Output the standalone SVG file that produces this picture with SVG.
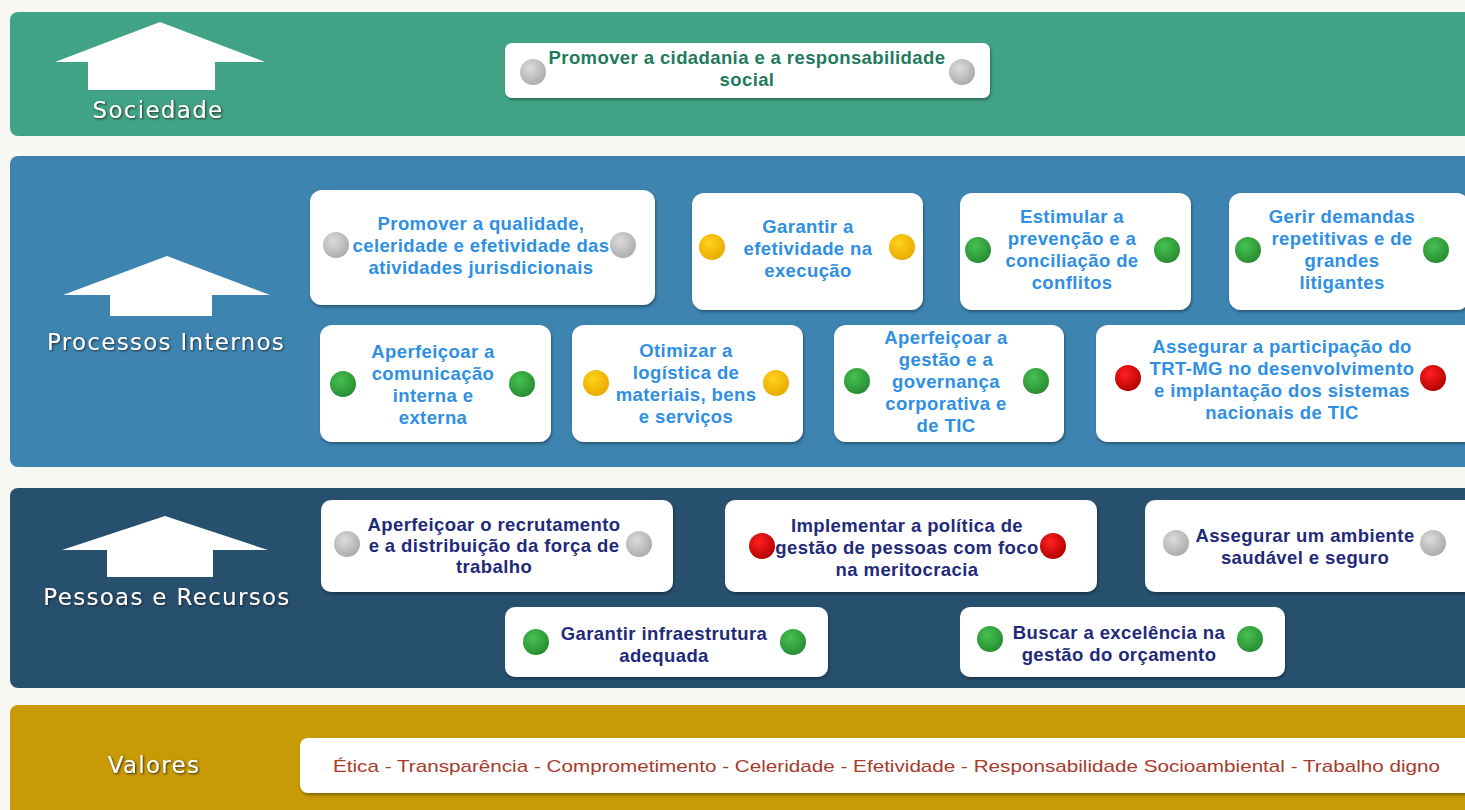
<svg xmlns="http://www.w3.org/2000/svg" width="1465" height="810" viewBox="0 0 1465 810">
<defs>
<radialGradient id="gGray" cx="0.4" cy="0.35" r="0.7"><stop offset="0" stop-color="#dcdcdc"/><stop offset="1" stop-color="#a9a9a9"/></radialGradient>
<radialGradient id="gYellow" cx="0.4" cy="0.35" r="0.7"><stop offset="0" stop-color="#ffd21a"/><stop offset="1" stop-color="#e9a800"/></radialGradient>
<radialGradient id="gGreen" cx="0.4" cy="0.35" r="0.7"><stop offset="0" stop-color="#47c152"/><stop offset="1" stop-color="#268a30"/></radialGradient>
<radialGradient id="gRed" cx="0.4" cy="0.35" r="0.7"><stop offset="0" stop-color="#ff2020"/><stop offset="1" stop-color="#b00000"/></radialGradient>
<filter id="shadow" x="-5%" y="-10%" width="110%" height="125%"><feDropShadow dx="1" dy="2" stdDeviation="1.5" flood-color="#000" flood-opacity="0.35"/></filter>
<filter id="tshadow" x="-5%" y="-20%" width="110%" height="150%"><feDropShadow dx="1" dy="1" stdDeviation="0.8" flood-color="#1a1a1a" flood-opacity="0.9"/></filter>
</defs>
<style>
.box{fill:#ffffff;filter:url(#shadow)}
.t{font-family:"Liberation Sans",Arial,sans-serif;font-weight:bold;font-size:18.5px;letter-spacing:0.4px;text-anchor:middle}
.tS{fill:#1f7a5e}
.tP{fill:#2f8fe3}
.tR{fill:#1f2a7a}
.lab{font-family:"DejaVu Sans",Verdana,sans-serif;font-size:23px;letter-spacing:1.3px;fill:#ffffff;text-anchor:middle;filter:url(#tshadow)}
.arr{fill:#ffffff}
.gray{fill:url(#gGray)}
.yel{fill:url(#gYellow)}
.grn{fill:url(#gGreen)}
.red{fill:url(#gRed)}
.val{font-family:"Liberation Sans",Arial,sans-serif;font-size:17px;fill:#a83a2a}
</style>
<rect x="0" y="0" width="1465" height="810" fill="#f7f8f3"/>

<g id="band-sociedade">
<rect x="10" y="12" width="1470" height="124" rx="8" fill="#40a385"/>
<path class="arr" d="M160,22 L265,62 L215,62 L215,90 L88,90 L88,62 L55,62 Z"/>
<text class="lab" x="158" y="118">Sociedade</text>
</g>
<g id="band-processos">
<rect x="10" y="156" width="1470" height="311" rx="8" fill="#3d84b1"/>
<path class="arr" d="M167,256 L270,295 L212,295 L212,316 L110,316 L110,295 L63,295 Z"/>
<text class="lab" x="166" y="350">Processos Internos</text>
</g>
<g id="band-pessoas">
<rect x="10" y="488" width="1470" height="200" rx="8" fill="#27506f"/>
<path class="arr" d="M165,516 L268,550 L213,550 L213,577 L107,577 L107,550 L62,550 Z"/>
<text class="lab" x="167" y="605">Pessoas e Recursos</text>
</g>
<g id="band-valores">
<rect x="10" y="705" width="1470" height="120" rx="8" fill="#c89a05"/>
<text class="lab" x="154" y="773">Valores</text>
</g>

<g id="n-cidadania">
<rect class="box" x="505" y="43" width="485" height="55" rx="7"/>
<circle class="gray" cx="533" cy="72" r="13"/><circle class="gray" cx="962" cy="72" r="13"/>
<text class="t tS" x="747" y="64">Promover a cidadania e a responsabilidade</text>
<text class="t tS" x="747" y="86">social</text>
</g>

<g id="n-qualidade">
<rect class="box" x="310" y="190" width="345" height="115" rx="12"/>
<circle class="gray" cx="336" cy="245" r="13"/><circle class="gray" cx="623" cy="245" r="13"/>
<text class="t tP" x="481" y="230">Promover a qualidade,</text>
<text class="t tP" x="481" y="252">celeridade e efetividade das</text>
<text class="t tP" x="481" y="274">atividades jurisdicionais</text>
</g>
<g id="n-execucao">
<rect class="box" x="692" y="193" width="231" height="117" rx="12"/>
<circle class="yel" cx="712" cy="247" r="13"/><circle class="yel" cx="902" cy="247" r="13"/>
<text class="t tP" x="808" y="233">Garantir a</text>
<text class="t tP" x="808" y="255">efetividade na</text>
<text class="t tP" x="808" y="277">execução</text>
</g>
<g id="n-conciliacao">
<rect class="box" x="960" y="193" width="231" height="117" rx="12"/>
<circle class="grn" cx="978" cy="250" r="13"/><circle class="grn" cx="1167" cy="250" r="13"/>
<text class="t tP" x="1072" y="223">Estimular a</text>
<text class="t tP" x="1072" y="245">prevenção e a</text>
<text class="t tP" x="1072" y="267">conciliação de</text>
<text class="t tP" x="1072" y="289">conflitos</text>
</g>
<g id="n-demandas">
<rect class="box" x="1229" y="193" width="240" height="117" rx="12"/>
<circle class="grn" cx="1248" cy="250" r="13"/><circle class="grn" cx="1436" cy="250" r="13"/>
<text class="t tP" x="1342" y="223">Gerir demandas</text>
<text class="t tP" x="1342" y="245">repetitivas e de</text>
<text class="t tP" x="1342" y="267">grandes</text>
<text class="t tP" x="1342" y="289">litigantes</text>
</g>
<g id="n-comunicacao">
<rect class="box" x="320" y="325" width="231" height="117" rx="12"/>
<circle class="grn" cx="343" cy="384" r="13"/><circle class="grn" cx="522" cy="384" r="13"/>
<text class="t tP" x="433" y="358">Aperfeiçoar a</text>
<text class="t tP" x="433" y="380">comunicação</text>
<text class="t tP" x="433" y="402">interna e</text>
<text class="t tP" x="433" y="424">externa</text>
</g>
<g id="n-logistica">
<rect class="box" x="572" y="325" width="231" height="117" rx="12"/>
<circle class="yel" cx="596" cy="383" r="13"/><circle class="yel" cx="776" cy="383" r="13"/>
<text class="t tP" x="686" y="357">Otimizar a</text>
<text class="t tP" x="686" y="379">logística de</text>
<text class="t tP" x="686" y="401">materiais, bens</text>
<text class="t tP" x="686" y="423">e serviços</text>
</g>
<g id="n-governanca">
<rect class="box" x="834" y="325" width="230" height="117" rx="12"/>
<circle class="grn" cx="857" cy="381" r="13"/><circle class="grn" cx="1036" cy="381" r="13"/>
<text class="t tP" x="946" y="344">Aperfeiçoar a</text>
<text class="t tP" x="946" y="366">gestão e a</text>
<text class="t tP" x="946" y="388">governança</text>
<text class="t tP" x="946" y="410">corporativa e</text>
<text class="t tP" x="946" y="432">de TIC</text>
</g>
<g id="n-sistemas">
<rect class="box" x="1096" y="325" width="380" height="117" rx="12"/>
<circle class="red" cx="1128" cy="378" r="13"/><circle class="red" cx="1433" cy="378" r="13"/>
<text class="t tP" x="1282" y="353">Assegurar a participação do</text>
<text class="t tP" x="1282" y="375">TRT-MG no desenvolvimento</text>
<text class="t tP" x="1282" y="397">e implantação dos sistemas</text>
<text class="t tP" x="1282" y="419">nacionais de TIC</text>
</g>

<g id="n-recrutamento">
<rect class="box" x="321" y="500" width="352" height="92" rx="10"/>
<circle class="gray" cx="347" cy="544" r="13"/><circle class="gray" cx="639" cy="544" r="13"/>
<text class="t tR" x="494" y="531">Aperfeiçoar o recrutamento</text>
<text class="t tR" x="494" y="552">e a distribuição da força de</text>
<text class="t tR" x="494" y="573">trabalho</text>
</g>
<g id="n-meritocracia">
<rect class="box" x="725" y="500" width="372" height="92" rx="10"/>
<circle class="red" cx="762" cy="546" r="13"/><circle class="red" cx="1053" cy="546" r="13"/>
<text class="t tR" x="907" y="532">Implementar a política de</text>
<text class="t tR" x="907" y="554">gestão de pessoas com foco</text>
<text class="t tR" x="907" y="576">na meritocracia</text>
</g>
<g id="n-ambiente">
<rect class="box" x="1145" y="500" width="330" height="92" rx="10"/>
<circle class="gray" cx="1176" cy="543" r="13"/><circle class="gray" cx="1433" cy="543" r="13"/>
<text class="t tR" x="1305" y="542">Assegurar um ambiente</text>
<text class="t tR" x="1305" y="564">saudável e seguro</text>
</g>
<g id="n-infraestrutura">
<rect class="box" x="505" y="607" width="323" height="70" rx="10"/>
<circle class="grn" cx="536" cy="642" r="13"/><circle class="grn" cx="793" cy="642" r="13"/>
<text class="t tR" x="664" y="640">Garantir infraestrutura</text>
<text class="t tR" x="664" y="662">adequada</text>
</g>
<g id="n-orcamento">
<rect class="box" x="960" y="607" width="325" height="70" rx="10"/>
<circle class="grn" cx="990" cy="639" r="13"/><circle class="grn" cx="1250" cy="639" r="13"/>
<text class="t tR" x="1119" y="639">Buscar a excelência na</text>
<text class="t tR" x="1119" y="661">gestão do orçamento</text>
</g>

<g id="n-valores">
<rect class="box" x="300" y="738" width="1180" height="55" rx="8"/>
<text class="val" x="333" y="772" textLength="1107" lengthAdjust="spacingAndGlyphs">Ética - Transparência - Comprometimento - Celeridade - Efetividade - Responsabilidade Socioambiental - Trabalho digno</text>
</g>

<g id="connectors"></g>
</svg>
